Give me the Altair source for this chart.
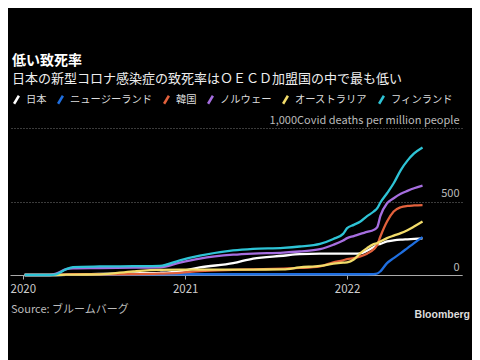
import altair as alt
import pandas as pd

dates = ["2020-01-05", "2020-03-01", "2020-03-16", "2020-04-08", "2020-04-23",
         "2020-06-22", "2020-09-06", "2020-11-05", "2020-12-20", "2021-02-03",
         "2021-04-19", "2021-06-03", "2021-08-10", "2021-09-16", "2021-11-01",
         "2021-12-01", "2021-12-23", "2022-01-01", "2022-01-16", "2022-01-31",
         "2022-02-15", "2022-03-02", "2022-03-10", "2022-03-17", "2022-04-01",
         "2022-04-16", "2022-05-02", "2022-05-17", "2022-06-01", "2022-06-20"]

japan = [0, 0, 0, 1, 3, 8, 11, 15, 25, 52, 80, 112, 131, 142, 145,
         145, 145, 145, 145, 147, 165, 190, 206, 212, 228, 235, 240, 243, 246, 249]
new_zealand = [0, 0, 0, 1, 3, 4, 5, 5, 5, 5, 5, 5, 5, 5, 5,
               5, 5, 5, 5, 5, 5, 6, 10, 25, 81, 115, 149, 183, 217, 258]
korea = [0, 0, 1, 4, 5, 5, 6, 9, 14, 27, 35, 38, 44, 48, 59,
         86, 100, 108, 115, 127, 145, 175, 206, 262, 364, 432, 461, 470, 473, 475]
norway = [0, 0, 10, 40, 45, 47, 50, 52, 85, 112, 138, 146, 152, 160, 176,
          206, 235, 251, 265, 280, 293, 307, 325, 402, 488, 522, 552, 572, 590, 608]
australia = [0, 0, 0, 2, 3, 4, 25, 35, 36, 36, 36, 37, 38, 52, 62,
             77, 84, 86, 105, 149, 183, 210, 217, 228, 251, 268, 285, 305, 330, 364]
finland = [0, 0, 5, 40, 54, 58, 60, 62, 100, 131, 167, 178, 185, 194, 212,
           245, 280, 319, 341, 364, 400, 432, 455, 493, 556, 624, 714, 778, 827, 868]

countries = ["日本", "ニュージーランド", "韓国", "ノルウェー", "オーストラリア", "フィンランド"]
colors = ["#ffffff", "#1f6fe0", "#e2613c", "#a66ee0", "#f2dc6a", "#2ec4d6"]
series = [japan, new_zealand, korea, norway, australia, finland]

rows = []
for name, vals in zip(countries, series):
    for d, v in zip(dates, vals):
        rows.append({"date": d, "country": name, "value": v})
df = pd.DataFrame(rows)

FONT = "Noto Sans CJK JP"

lines = alt.Chart(df).mark_line(strokeWidth=2.3, interpolate="monotone").encode(
    x=alt.X("date:T", title=None,
            scale=alt.Scale(domain=[alt.DateTime(year=2019, month=12, date=3, utc=True),
                                    alt.DateTime(year=2022, month=9, date=17, utc=True)]),
            axis=alt.Axis(format="%Y", tickCount="year", grid=False, domainColor="#aaaaaa",
                          tickColor="#aaaaaa", tickSize=4, labelColor="#cccccc",
                          labelFontSize=11.5, labelFont=FONT, labelPadding=4,
                          labelFlush=False)),
    y=alt.Y("value:Q", title=None,
            scale=alt.Scale(domain=[0, 1000]),
            axis=alt.Axis(orient="right", values=[0, 500, 1000], domain=False, ticks=False,
                          grid=True, gridColor="#777777", gridDash=[1, 2],
                          labelAlign="right", labelBaseline="bottom", labelPadding=-3,
                          labelOffset=-3, labelColor="#bbbbbb", labelFontSize=11,
                          labelFont=FONT, labelLimit=400,
                          labelExpr="datum.value == 1000 ? '1,000Covid deaths per million people' : datum.label")),
    color=alt.Color("country:N", scale=alt.Scale(domain=countries, range=colors),
                    legend=alt.Legend(title=None, orient="none", legendX=1, legendY=-34,
                                      direction="horizontal", columns=6,
                                      symbolType="M-0.6,1L0.6,-1", symbolSize=64,
                                      symbolStrokeWidth=2.5, labelColor="#dddddd",
                                      labelFontSize=10.3, labelFont=FONT, columnPadding=6,
                                      labelOffset=4)),
)

notes = pd.DataFrame({"label": ["Source: ブルームバーグ"]})
source = alt.Chart(notes).mark_text(align="left", baseline="middle", fontSize=11,
                                    font=FONT, color="#bbbbbb").encode(
    x=alt.value(1), y=alt.value(182), text="label:N")

brand = pd.DataFrame({"label": ["Bloomberg"]})
logo = alt.Chart(brand).mark_text(align="right", baseline="middle", fontSize=10.5,
                                  font="Liberation Sans", fontWeight="bold",
                                  color="#dddddd").encode(
    x=alt.value(460), y=alt.value(187), text="label:N")

chart = alt.layer(lines, source, logo).properties(
    width=452, height=147,
    autosize=alt.AutoSizeParams(type="none"),
    padding={"left": 2, "top": 120, "right": 10, "bottom": 85},
    background="#000000",
    title=alt.Title(text="低い致死率", subtitle="日本の新型コロナ感染症の致死率はＯＥＣＤ加盟国の中で最も低い",
                    anchor="start", font=FONT, fontSize=14, fontWeight="bold", color="#ffffff",
                    subtitleFont=FONT, subtitleFontSize=13, subtitleColor="#eeeeee",
                    subtitlePadding=5, offset=8, dx=2),
).configure_view(stroke=None)

chart.save("out.html", embed_options={"renderer": "svg", "actions": False})
